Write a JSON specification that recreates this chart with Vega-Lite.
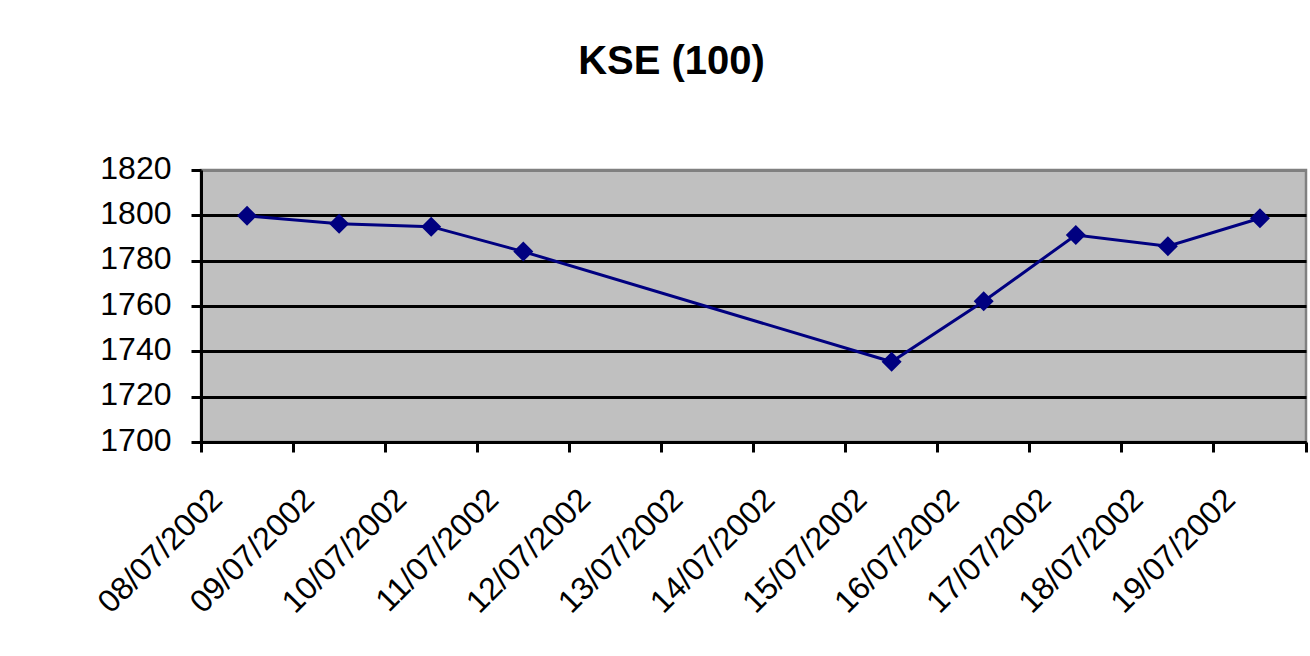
{
  "$schema": "https://vega.github.io/schema/vega-lite/v6.json",
  "width": 1105,
  "height": 272,
  "autosize": {"type": "none"},
  "padding": {"left": 201, "top": 170, "right": 4, "bottom": 214},
  "background": "white",
  "title": {
    "text": "KSE (100)",
    "font": "Liberation Sans",
    "fontSize": 40,
    "fontWeight": "bold",
    "color": "black",
    "anchor": "middle",
    "dx": -82,
    "offset": 70
  },
  "data": {
    "values": [
      {"date": "08/07/2002", "kse": 1799.8},
      {"date": "09/07/2002", "kse": 1796.3},
      {"date": "10/07/2002", "kse": 1795.0},
      {"date": "11/07/2002", "kse": 1784.0},
      {"date": "15/07/2002", "kse": 1735.4},
      {"date": "16/07/2002", "kse": 1762.1},
      {"date": "17/07/2002", "kse": 1791.3},
      {"date": "18/07/2002", "kse": 1786.4},
      {"date": "19/07/2002", "kse": 1798.7}
    ]
  },
  "encoding": {
    "x": {
      "field": "date",
      "type": "ordinal",
      "bandPosition": 0.5,
      "scale": {
        "type": "band",
        "paddingInner": 0,
        "paddingOuter": 0,
        "domain": ["08/07/2002", "09/07/2002", "10/07/2002", "11/07/2002", "12/07/2002", "13/07/2002", "14/07/2002", "15/07/2002", "16/07/2002", "17/07/2002", "18/07/2002", "19/07/2002"]
      },
      "axis": {
        "title": null,
        "bandPosition": 1,
        "tickExtra": true,
        "labelAngle": -45,
        "labelAlign": "right",
        "labelBaseline": "middle",
        "labelOffset": -30,
        "labelPadding": 42,
        "labelFont": "Liberation Sans",
        "labelFontSize": 32,
        "labelColor": "black",
        "labelOverlap": false,
        "domainColor": "black",
        "domainWidth": 3,
        "tickColor": "black",
        "tickWidth": 3,
        "tickSize": 10,
        "grid": false
      }
    },
    "y": {
      "field": "kse",
      "type": "quantitative",
      "scale": {"domain": [1700, 1820], "zero": false, "nice": false},
      "axis": {
        "title": null,
        "format": "d",
        "values": [1700, 1720, 1740, 1760, 1780, 1800, 1820],
        "labelFont": "Liberation Sans",
        "labelFontSize": 32,
        "labelColor": "black",
        "labelPadding": 20,
        "labelBaseline": "middle",
        "labelOffset": -2,
        "domainColor": "black",
        "domainWidth": 3,
        "tickColor": "black",
        "tickWidth": 3,
        "tickSize": 10,
        "grid": true,
        "gridColor": {"condition": {"test": "datum.value === 1820", "value": "#808080"}, "value": "black"},
        "gridWidth": 3,
        "gridOpacity": 1
      }
    }
  },
  "mark": {
    "type": "line",
    "color": "#000080",
    "strokeWidth": 3,
    "point": {"shape": "diamond", "size": 400, "filled": true, "color": "#000080", "opacity": 1}
  },
  "config": {
    "view": {"fill": "#C0C0C0", "stroke": "#808080", "strokeWidth": 2.5},
    "axis": {"zindex": 0}
  }
}
